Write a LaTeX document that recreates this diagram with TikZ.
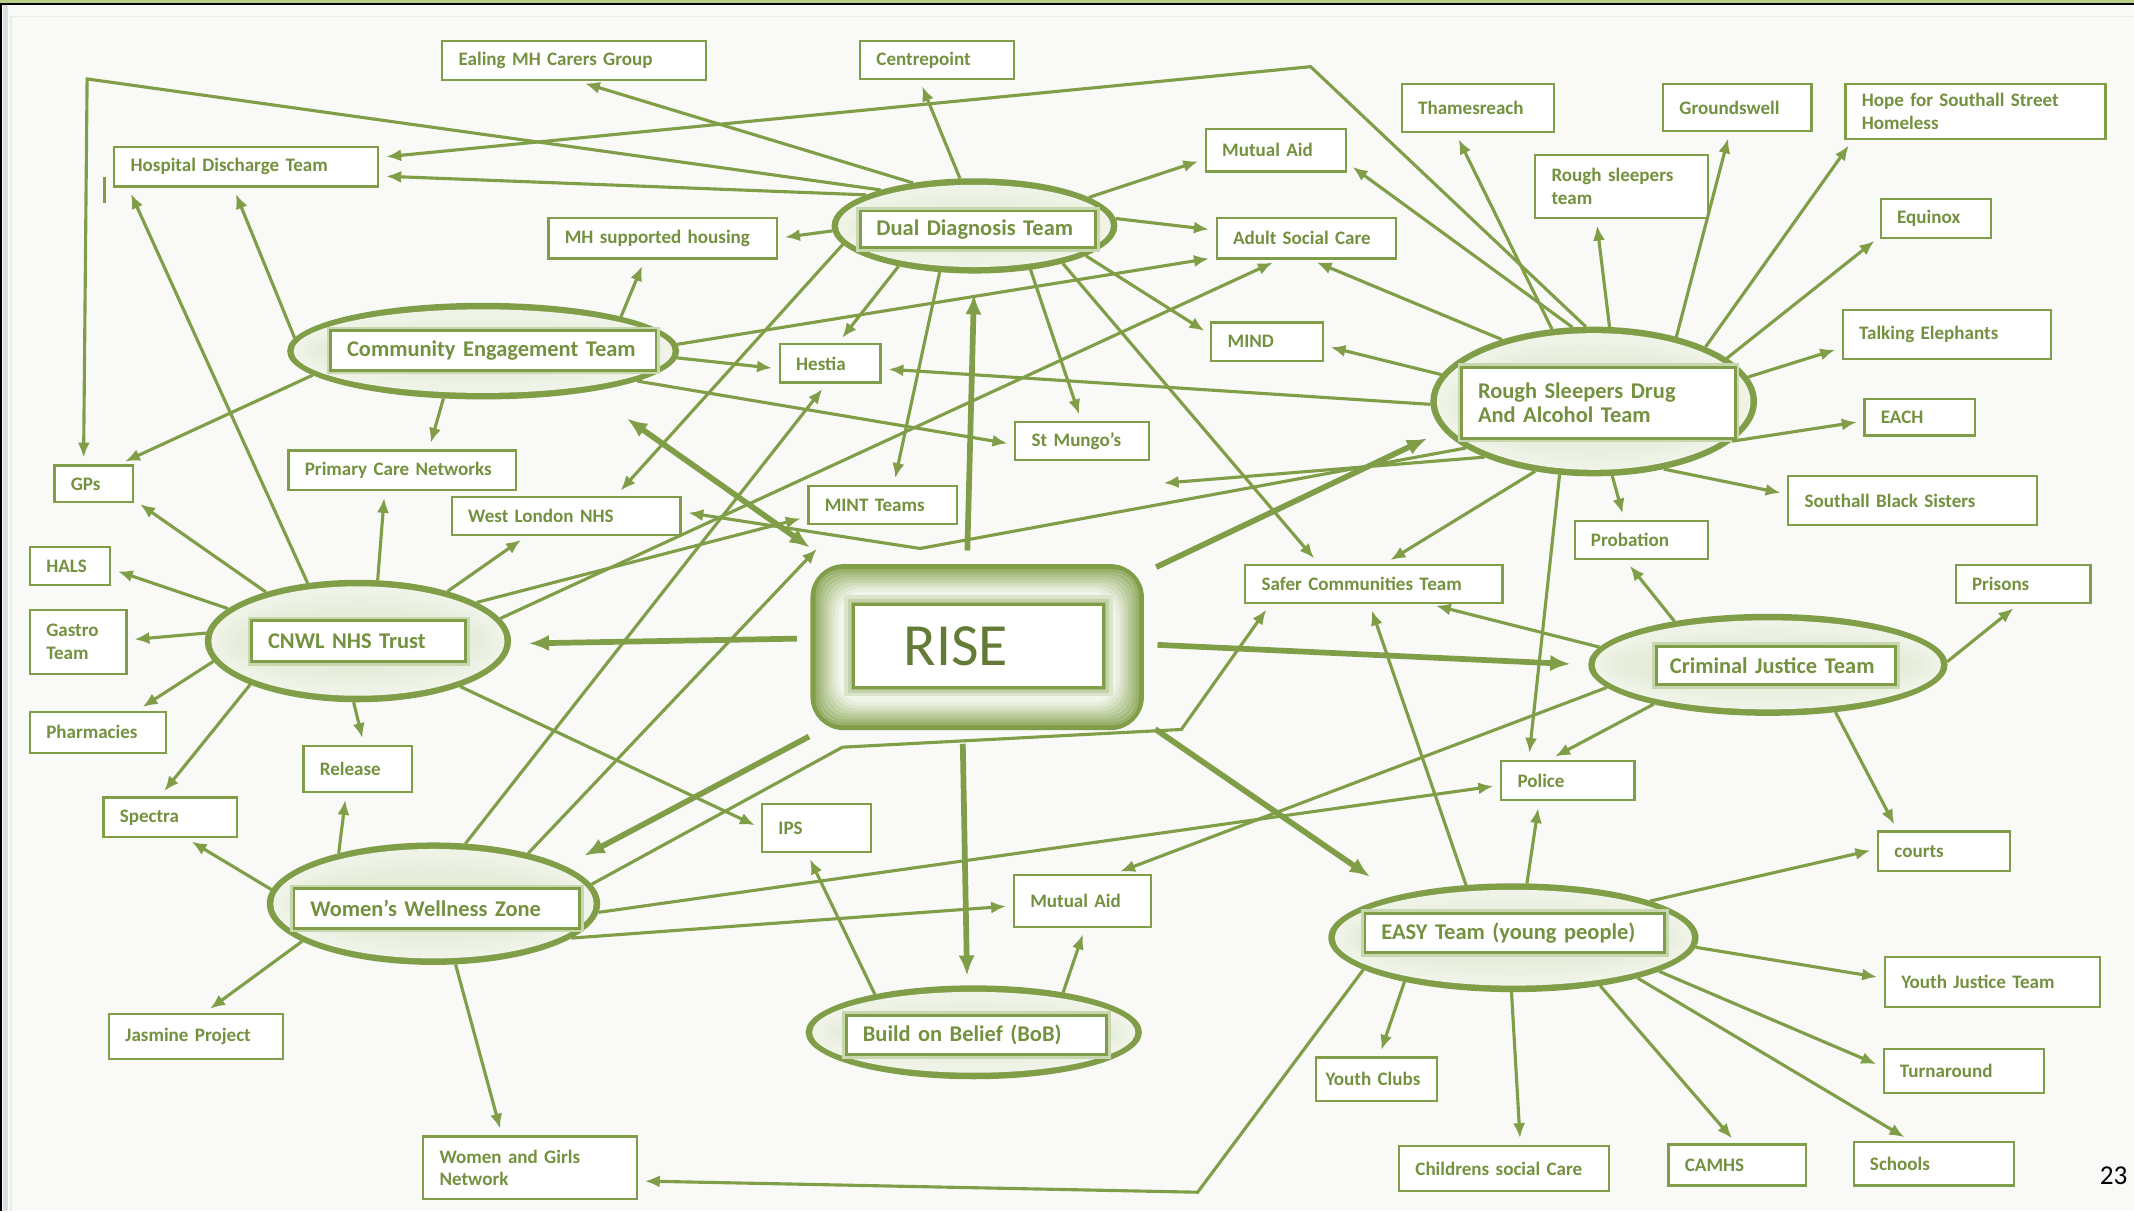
\documentclass[tikz,border=0pt]{standalone}
\usepackage{fontspec}
\setmainfont{Carlito}
\usetikzlibrary{arrows.meta,shapes.geometric,calc}

\definecolor{ln}{RGB}{128,158,72}
\definecolor{txt}{RGB}{116,145,64}
\definecolor{ellin}{RGB}{241,245,234}
\definecolor{bgc}{RGB}{249,250,247}
\definecolor{topg}{RGB}{184,208,140}
\definecolor{sideb}{RGB}{214,224,230}

\begin{document}
\begin{tikzpicture}[x=1pt, y=-1pt,
    bx/.style={draw=ln, line width=1.6pt, fill=white, inner xsep=12pt, inner ysep=2pt,
      align=left, text=txt, font=\bfseries\fontsize{14}{16.5}\selectfont},
    lbl/.style={bx, line width=2pt, font=\bfseries\fontsize{16.5}{18}\selectfont,
      preaction={draw=ln!35!ellin, line width=6pt}},
    hub/.style={ellipse, fill=ln, draw=ln, line width=2pt, inner sep=0pt},
    arr/.style={draw=ln, line width=2.3pt, -{Latex[length=11pt,width=9pt]}, shorten >=5pt},
    thk/.style={draw=ln, line width=4.2pt, -{Latex[length=15pt,width=12pt]}, shorten <=10pt},
  ]
  \useasboundingbox (0,0) rectangle (1568,890);
  % slide frame
  \fill[bgc] (0,0) rectangle (1568,890);
  \fill[topg] (0,0) rectangle (1568,2.4);
  \draw[black, line width=1.3pt] (0,3) -- (1568,3);
  \fill[sideb] (2,3.6) rectangle (6,890);
  \draw[black, line width=1.5pt] (1,3) -- (1,890);
  \draw[ln!12!bgc, line width=1pt] (8,890) -- (8,12) -- (1568,12);

  % hubs
  \node[hub, minimum width=208pt, minimum height=68pt] (dd) at (716,166) {};
  \node[hub, minimum width=286pt, minimum height=69pt] (cet) at (355,258) {};
  \node[hub, minimum width=223pt, minimum height=88pt] (cnwl) at (263,471) {};
  \node[hub, minimum width=238pt, minimum height=108pt] (rsd) at (1171,295) {};
  \node[hub, minimum width=262pt, minimum height=73pt] (cjt) at (1299,488.5) {};
  \node[hub, minimum width=243pt, minimum height=88pt] (wwz) at (318.5,664) {};
  \node[hub, minimum width=245pt, minimum height=67pt] (bob) at (715.5,758.5) {};
  \node[hub, minimum width=270pt, minimum height=78pt] (easy) at (1112,689) {};
  % soft glow inside the hubs
  \foreach \n/\w/\h in {dd/104/34, cet/143/34.5, cnwl/111.5/44, rsd/119/54,
                        cjt/131/36.5, wwz/121.5/44, bob/122.5/33.5, easy/135/39}
    \foreach \k [evaluate=\k as \c using int(100-11*\k),
                 evaluate=\k as \rx using \w-1.5-2.3*\k,
                 evaluate=\k as \ry using \h-1.5-2.3*\k] in {1,...,9}
      \fill[ln!\c!ellin] (\n.center) ellipse [x radius=\rx pt, y radius=\ry pt];

  \node[lbl, text width=149pt, minimum height=27pt] (ddlbl) at (718.5,168.5) {Dual Diagnosis Team};
  \node[lbl, text width=215pt, minimum height=29pt] (cetlbl) at (362.5,257.5) {Community Engagement Team};
  \node[lbl, text width=133pt, minimum height=30pt] (cnwllbl) at (263.5,471) {CNWL NHS Trust};
  \node[lbl, text width=177pt, minimum height=52pt] (rsdlbl) at (1174.5,296) {Rough Sleepers Drug\\And Alcohol Team};
  \node[lbl, text width=156pt, inner xsep=10pt, minimum height=28pt] (cjtlbl) at (1305,489) {Criminal Justice Team};
  \node[lbl, text width=186pt, minimum height=29pt] (wwzlbl) at (321,667.5) {Women’s Wellness Zone};
  \node[lbl, text width=167pt, minimum height=29pt] (boblbl) at (717.5,760.5) {Build on Belief (BoB)};
  \node[lbl, text width=196pt, minimum height=29pt] (easylbl) at (1113,685.5) {EASY Team (young people)};

  % RISE in the middle
  \node[draw=ln, line width=5pt, rounded corners=22pt, fill=ellin,
    minimum width=240pt, minimum height=117pt] (rise) at (718,475.5) {};
  \foreach \k [evaluate=\k as \d using 3+2*\k, evaluate=\k as \c using int(88-10*\k)] in {1,...,8}
    \draw[draw=ln!\c!ellin, line width=2.6pt, rounded corners=18pt]
      ($(rise.north west)+(\d pt,-\d pt)$) rectangle ($(rise.south east)+(-\d pt,\d pt)$);
  \draw[ln!20!ellin, line width=13pt] (627,444) rectangle (811,505);
  \draw[ln!40!ellin, line width=8pt] (627,444) rectangle (811,505);
  \draw[ln!65!ellin, line width=4pt] (627,444) rectangle (811,505);
  \node[draw=ln, line width=2.5pt, fill=white, minimum height=61pt, text width=110pt,
    inner xsep=37pt, align=left, text=txt!85!black, font=\fontsize{44}{48}\selectfont]
    (riselbl) at (719,474.5) {RISE};

  % boxes
  \node[bx, text width=170pt, minimum height=29pt] (ealing) at (422,44.5) {Ealing MH Carers Group};
  \node[bx, text width=89pt, minimum height=28pt] (centre) at (688.5,44) {Centrepoint};
  \node[bx, text width=170pt, minimum height=29pt] (hdt) at (181,122.5) {Hospital Discharge Team};
  \node[bx, text width=79pt, minimum height=31pt] (mutual1) at (937.5,110.5) {Mutual Aid};
  \node[bx, text width=144pt, minimum height=30pt] (mhsh) at (487,175) {MH supported housing};
  \node[bx, text width=108pt, minimum height=30pt] (asc) at (960,175) {Adult Social Care};
  \node[bx, text width=88pt, minimum height=35pt] (tham) at (1086,79.5) {Thamesreach};
  \node[bx, text width=85pt, minimum height=34pt] (ground) at (1276.5,79) {Groundswell};
  \node[bx, text width=167pt, minimum height=40pt] (hope) at (1451.5,82) {Hope for Southall Street\\Homeless};
  \node[bx, text width=103pt, minimum height=46pt] (rst) at (1191.5,137) {Rough sleepers\\team};
  \node[bx, text width=57pt, minimum height=29pt] (equinox) at (1422.5,160.5) {Equinox};
  \node[bx, text width=129pt, minimum height=36pt] (talk) at (1430.5,246) {Talking Elephants};
  \node[bx, text width=57pt, minimum height=27pt] (each) at (1410.5,306.5) {EACH};
  \node[bx, text width=159pt, minimum height=36pt] (sbs) at (1405.5,368) {Southall Black Sisters};
  \node[bx, text width=74pt, minimum height=28pt] (prob) at (1206,397) {Probation};
  \node[bx, text width=75pt, minimum height=28pt] (prisons) at (1486.5,429) {Prisons};
  \node[bx, text width=165pt, minimum height=28pt] (safer) at (1009.5,429) {Safer Communities Team};
  \node[bx, text width=58pt, minimum height=28pt] (mind) at (931,251) {MIND};
  \node[bx, text width=50pt, minimum height=28pt] (hestia) at (610,267) {Hestia};
  \node[bx, text width=74pt, minimum height=28pt] (mungo) at (795,324) {St Mungo’s};
  \node[bx, text width=85pt, minimum height=28pt] (mint) at (648.5,371) {MINT Teams};
  \node[bx, text width=143pt, minimum height=29pt] (pcn) at (295.5,345.5) {Primary Care Networks};
  \node[bx, text width=144pt, minimum height=28pt] (wln) at (416,379) {West London NHS};
  \node[bx, text width=34pt, minimum height=27pt] (gps) at (69,355.5) {GPs};
  \node[bx, text width=35pt, minimum height=28pt] (hals) at (51.5,416) {HALS};
  \node[bx, text width=47pt, minimum height=47pt] (gastro) at (57.5,471.5) {Gastro\\Team};
  \node[bx, text width=76pt, minimum height=30pt] (pharm) at (72,538) {Pharmacies};
  \node[bx, text width=74pt, minimum height=29pt] (spectra) at (125,600.5) {Spectra};
  \node[bx, text width=56pt, minimum height=34pt] (release) at (263,565) {Release};
  \node[bx, text width=56pt, minimum height=35pt] (ips) at (600,608.5) {IPS};
  \node[bx, text width=74pt, minimum height=29pt] (police) at (1152,573.5) {Police};
  \node[bx, text width=77pt, minimum height=38pt] (mutual2) at (795.5,662) {Mutual Aid};
  \node[bx, text width=73pt, minimum height=29pt] (courts) at (1428.5,625.5) {courts};
  \node[bx, text width=134pt, minimum height=37pt] (yjt) at (1464,721.5) {Youth Justice Team};
  \node[bx, text width=94pt, minimum height=32pt] (turn) at (1443,787) {Turnaround};
  \node[bx, text width=104pt, minimum height=33pt] (jasmine) at (144,761.5) {Jasmine Project};
  \node[bx, text width=133pt, minimum height=46pt] (wgn) at (389.5,858) {Women and Girls\\Network};
  \node[bx, text width=75pt, inner xsep=7pt, minimum height=32pt] (youthc) at (1011.5,793) {Youth Clubs};
  \node[bx, text width=130pt, minimum height=33pt] (csc) at (1105,858.5) {Childrens social Care};
  \node[bx, text width=77pt, minimum height=30pt] (camhs) at (1276.5,856) {CAMHS};
  \node[bx, text width=94pt, minimum height=32pt] (schools) at (1421,855) {Schools};

  \node[font=\fontsize{20}{22}\selectfont, text=black] (pagenum) at (1553,864) {23};

  % bends of the long connectors
  \coordinate (kgp) at (64,58);
  \coordinate (khd) at (963,49);
  \coordinate (kwl) at (676,403);
  \coordinate (kwa) at (619,549);
  \coordinate (kwb) at (868,536);
  \coordinate (kwg) at (880,876);
  \coordinate (mungotip) at (855,355);

  \draw[ln, line width=2.4pt] (77,130) -- (77,149);

  % Dual Diagnosis Team
  \draw[arr] (dd.145) -- (ealing.-79);
  \draw[arr] (dd.107) -- (centre.-131);
  \draw[arr] (dd.164) -- (hdt.-4);
  \draw[arr] (dd.159) -- (kgp) -- (gps.118);
  \draw[arr] (dd.182) -- (mhsh.east);
  \draw[arr] (dd.14) -- (mutual1.187);
  \draw[arr] (dd.3) -- (asc.175);
  \draw[arr] (dd.-15) -- (mind.173);
  \draw[arr] (dd.208) -- (hestia.69);
  \draw[arr] (dd.-38) -- (mungo.92);
  \draw[arr] (dd.-23) -- (safer.160);
  \draw[arr] (dd.233) -- (mint.61);
  \draw[arr] (dd.188) -- (wln.22);

  % Community Engagement Team
  \draw[arr] (cet.176) -- (hdt.238);
  \draw[arr] (cet.14) -- (mhsh.230);
  \draw[arr] (cet.-2) -- (hestia.186);
  \draw[arr] (cet.-11) -- (mungo.183);
  \draw[arr] (cet.2) -- (asc.192);
  \draw[arr] (cet.230) -- (pcn.38);
  \draw[arr] (cet.188) -- (gps.38);

  % CNWL NHS Trust
  \draw[arr] (cnwl.152) -- (gps.-22);
  \draw[arr] (cnwl.166) -- (hals.-4);
  \draw[arr] (cnwl.177) -- (gastro.2);
  \draw[arr] (cnwl.188) -- (pharm.29);
  \draw[arr] (cnwl.202) -- (spectra.116);
  \draw[arr] (cnwl.266) -- (release.76);
  \draw[arr] (cnwl.72) -- (pcn.230);
  \draw[arr] (cnwl.29) -- (wln.207);
  \draw[arr] (cnwl.131) -- (hdt.190);
  \draw[arr] (cnwl.18) -- (mint.189);
  \draw[arr] (cnwl.9) -- (asc.218);
  \draw[arr] (cnwl.-24) -- (ips.180);

  % Women's Wellness Zone
  \draw[arr] (wwz.175) -- (spectra.-53);
  \draw[arr] (wwz.152) -- (release.244);
  \draw[arr] (wwz.196) -- (jasmine.70);
  \draw[arr] (wwz.-70) -- (wgn.131);
  \draw[arr] (wwz.62) -- (hestia.260);
  \draw[arr, shorten >=24pt] (wwz.28) -- (mint.205);
  \draw[arr] (wwz.7) -- (kwa) -- (kwb) -- (safer.191);
  \draw[arr] (wwz.-3) -- (police.184);
  \draw[arr] (wwz.-14) -- (mutual2.184);

  % Build on Belief
  \draw[arr] (bob.159) -- (ips.249);
  \draw[arr] (bob.24) -- (mutual2.275);

  % EASY Team
  \draw[arr] (easy.15) -- (courts.178);
  \draw[arr] (easy.-3) -- (yjt.178);
  \draw[arr] (easy.-13) -- (turn.177);
  \draw[arr] (easy.-18) -- (schools.136);
  \draw[arr] (easy.-29) -- (camhs.92);
  \draw[arr] (easy.268) -- (csc.55);
  \draw[arr] (easy.202) -- (youthc.84);
  \draw[arr] (easy.76) -- (police.216);
  \draw[arr] (easy.132) -- (safer.258);
  \draw[arr] (easy.192) -- (kwg) -- (wgn.-7);

  % Criminal Justice Team
  \draw[arr] (cjt.174) -- (safer.-20);
  \draw[arr] (cjt.155) -- (prob.232);
  \draw[arr] (cjt.199) -- (police.132);
  \draw[arr] (cjt.188) -- (mutual2.41);
  \draw[arr] (cjt.1) -- (prisons.258);
  \draw[arr] (cjt.-35) -- (courts.156);

  % Rough Sleepers Drug and Alcohol Team
  \draw[arr] (rsd.120) -- (tham.228);
  \draw[arr] (rsd.78) -- (rst.232);
  \draw[arr] (rsd.38) -- (ground.253);
  \draw[arr] (rsd.26) -- (hope.193);
  \draw[arr] (rsd.18) -- (equinox.198);
  \draw[arr] (rsd.9) -- (talk.187);
  \draw[arr] (rsd.-16) -- (each.184);
  \draw[arr] (rsd.-44) -- (sbs.177);
  \draw[arr] (rsd.-76) -- (prob.130);
  \draw[arr] (rsd.245) -- (police.152);
  \draw[arr] (rsd.230) -- (safer.62);
  \draw[arr] (rsd.170) -- (mind.-4);
  \draw[arr] (rsd.146) -- (asc.-80);
  \draw[arr] (rsd.106) -- (mutual1.-10);
  \draw[arr] (rsd.96) -- (khd) -- (hdt.4);
  \draw[arr] (rsd.181) -- (hestia.-6);
  \draw[arr, shorten >=0pt] (rsd.207) -- (mungotip);
  \draw[arr] (rsd.200) -- (kwl) -- (wln.2);

  % RISE
  \draw[thk, shorten >=15pt] (rise.97) -- (dd.south);
  \draw[thk, shorten >=13pt] (rise.177) -- (cnwl.-1);
  \draw[thk, shorten >=13pt] (rise.24) -- (rsd.191);
  \draw[thk, shorten >=13pt] (rise.1) -- (cjt.180);
  \draw[thk, shorten >=24pt] (rise.-24) -- (easy.160);
  \draw[thk, shorten >=7pt] (rise.-100) -- (bob.98);
  \draw[thk, shorten >=16pt] (rise.208) -- (wwz.16);
  \draw[thk, {Latex[length=15pt,width=12pt]}-{Latex[length=15pt,width=12pt]},
    shorten <=21pt, shorten >=34pt] (rise.150) -- (cet.-21);
\end{tikzpicture}
\end{document}
